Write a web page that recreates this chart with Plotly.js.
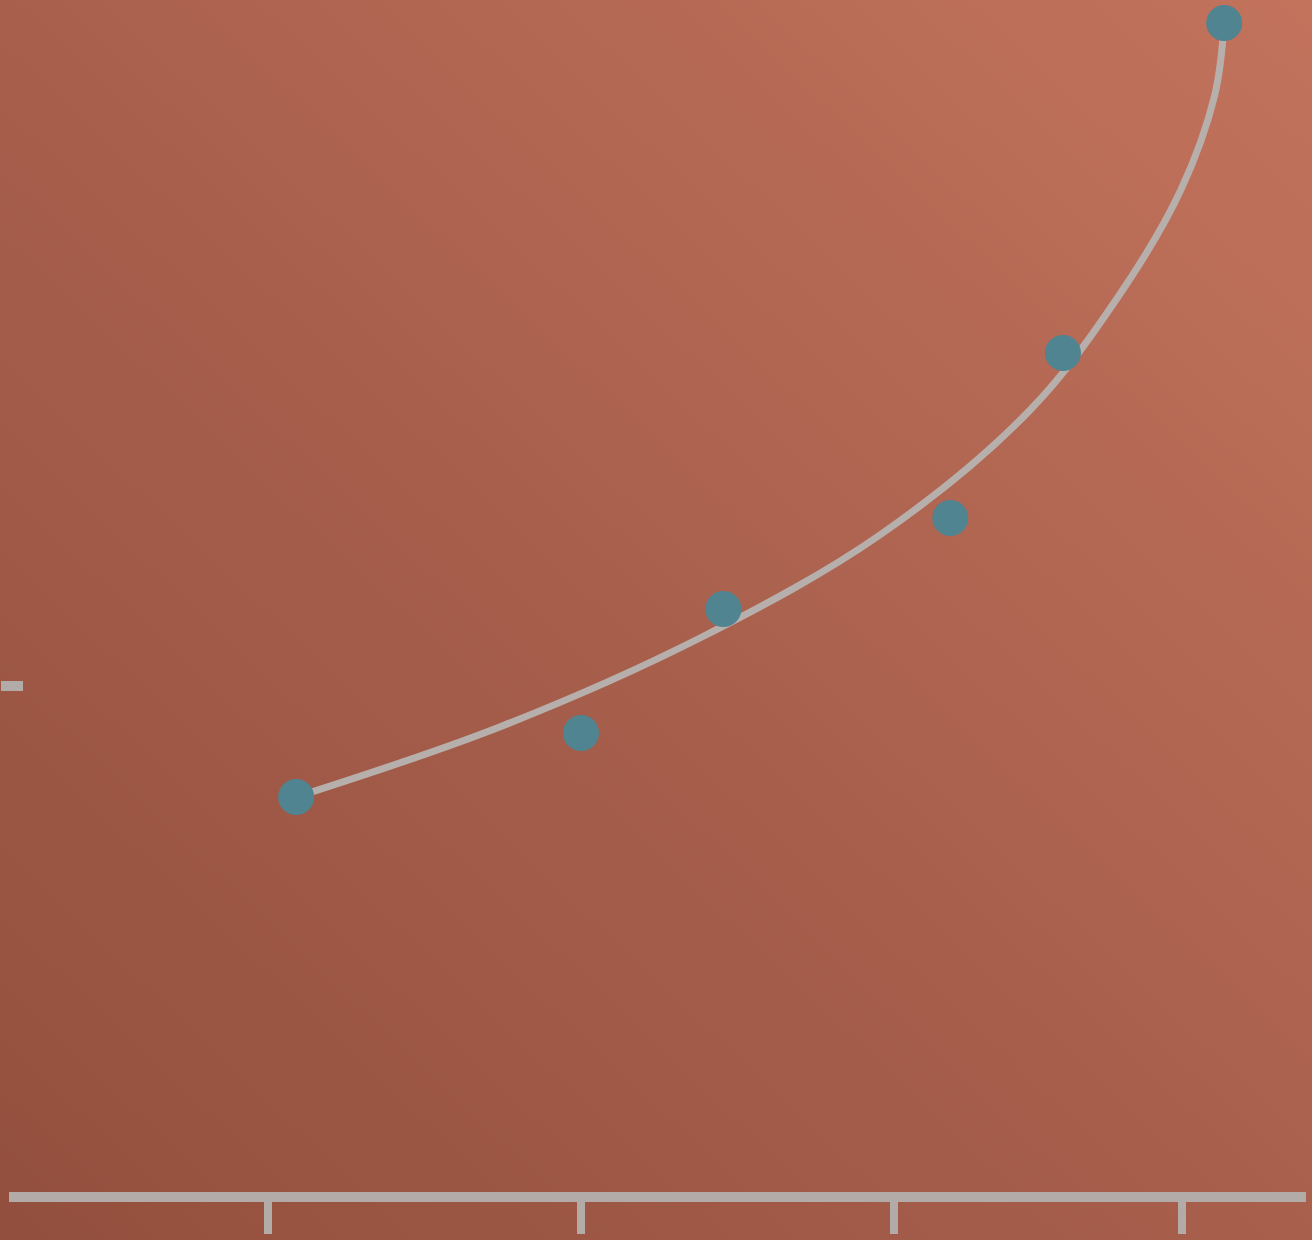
<!DOCTYPE html>
<html>
<head>
<meta charset="utf-8">
<script src="https://cdn.plot.ly/plotly-3.0.1.min.js"></script>
<style>
  html, body { margin: 0; padding: 0; }
  body { width: 1312px; height: 1240px; overflow: hidden;
         background: linear-gradient(to top right, #934f3d 0%, #a8604d 50%, #c3735c 100%); }
  #chart { width: 1312px; height: 1240px; }
</style>
</head>
<body>
<div id="chart"></div>
<script>
// Observed data points
const pointX = [2.18, 4.0, 4.91, 6.36, 7.08, 8.11];
const pointY = [3.89, 4.53, 5.77, 6.68, 8.33, 11.63];

// Fitted trend curve
const curveX = [2.18, 3.48, 4.76, 5.91, 6.87, 7.44, 7.83, 8.05, 8.11];
const curveY = [3.89, 4.59, 5.48, 6.51, 7.76, 8.91, 9.95, 10.91, 11.63];

// Axis ticks
const xTicks = [2, 4, 6, 7.84];
const yTicks = [5];

const W = 1312, H = 1240;

const traces = [
  {
    x: curveX, y: curveY, type: 'scatter', mode: 'lines',
    line: { color: '#b7afab', width: 7, shape: 'spline', smoothing: 1 },
    hoverinfo: 'skip'
  },
  {
    x: pointX, y: pointY, type: 'scatter', mode: 'markers',
    marker: { color: '#4f8490', size: 36, line: { width: 0 } }
  }
];

const layout = {
  width: W, height: H,
  margin: { l: 0, r: 0, t: 0, b: 0, pad: 0 },
  paper_bgcolor: 'rgba(0,0,0,0)',
  plot_bgcolor: 'rgba(0,0,0,0)',
  showlegend: false,
  xaxis: {
    domain: [9 / W, 1306 / W],
    range: [0.345, 8.633],
    showgrid: false, zeroline: false,
    showline: true, linecolor: '#b3aba7', linewidth: 10,
    ticks: 'outside', tickvals: xTicks, ticklen: 32, tickwidth: 8, tickcolor: '#b3aba7',
    showticklabels: false
  },
  yaxis: {
    domain: [(H - 1192) / H, 1],
    range: [-0.06, 11.86],
    showgrid: false, zeroline: false, showline: false,
    anchor: 'free', position: 0,
    ticks: 'inside', tickvals: yTicks, ticklen: 22, tickwidth: 10, tickcolor: '#b3aba7',
    showticklabels: false
  }
};

Plotly.newPlot('chart', traces, layout, { displayModeBar: false, staticPlot: true });
</script>
</body>
</html>
